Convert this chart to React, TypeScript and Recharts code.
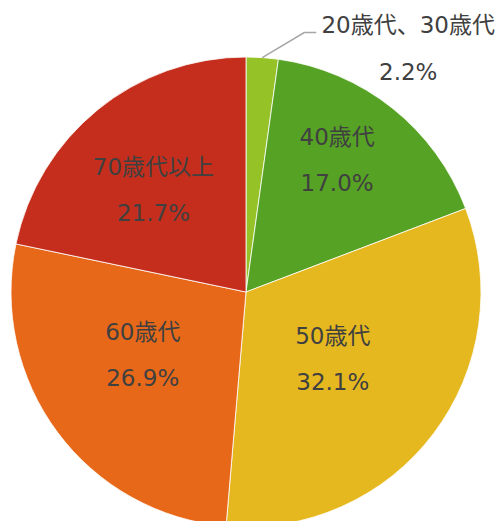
import React from "react";
import { PieChart, Pie, Cell } from "recharts";

const categories = ["20歳代、30歳代", "40歳代", "50歳代", "60歳代", "70歳代以上"];
const shares = [2.2, 17.0, 32.1, 26.9, 21.7];
const percentLabels = ["2.2%", "17.0%", "32.1%", "26.9%", "21.7%"];

const COLORS = ["#95C227", "#56A224", "#E5B81F", "#E8681A", "#C52E1C"];
// label placement (style): radius fraction and angle shift (deg, clockwise) per slice
const LABEL_R = [1, 0.682, 0.467, 0.515, 0.586];
const LABEL_SHIFT = [0, -3.9, 0.7, 5.2, -3.1];

const data = categories.map((name, i) => ({ name, value: shares[i], pct: percentLabels[i] }));

const FONT = '"DejaVu Sans", "Noto Sans CJK JP", sans-serif';
const TEXT = "#404040";
const FS = 23;
const RAD = Math.PI / 180;

const renderLabel = (props: any) => {
  const { cx, cy, midAngle, outerRadius, index } = props;
  const d = data[index];
  if (index === 0) {
    const ex = cx + outerRadius * Math.cos(-midAngle * RAD);
    const ey = cy + outerRadius * Math.sin(-midAngle * RAD);
    const mx = ex + 42;
    const my = ey - 25;
    const hx = mx + 12;
    const tx = hx + 92;
    return (
      <g>
        <polyline
          points={`${ex},${ey} ${mx},${my} ${hx},${my}`}
          fill="none"
          stroke="#A6A6A6"
          strokeWidth={1.5}
        />
        <text x={tx} y={my - 8} textAnchor="middle" dominantBaseline="central" fill={TEXT} fontSize={FS} fontFamily={FONT}>
          {d.name}
        </text>
        <text x={tx} y={my + 39} textAnchor="middle" dominantBaseline="central" fill={TEXT} fontSize={FS} fontFamily={FONT}>
          {d.pct}
        </text>
      </g>
    );
  }
  const a = midAngle - LABEL_SHIFT[index];
  const r = outerRadius * LABEL_R[index];
  const x = cx + r * Math.cos(-a * RAD);
  const y = cy + r * Math.sin(-a * RAD);
  return (
    <g>
      <text x={x} y={y - 23} textAnchor="middle" dominantBaseline="central" fill={TEXT} fontSize={FS} fontFamily={FONT}>
        {d.name}
      </text>
      <text x={x} y={y + 23} textAnchor="middle" dominantBaseline="central" fill={TEXT} fontSize={FS} fontFamily={FONT}>
        {d.pct}
      </text>
    </g>
  );
};

export default function App() {
  return (
    <div style={{ position: "absolute", left: 0, top: 0, width: 500, height: 521, background: "#fff" }}>
      <PieChart width={500} height={521} margin={{ top: 0, right: 0, bottom: 0, left: 0 }}>
        <Pie
          data={data}
          dataKey="value"
          nameKey="name"
          cx={246}
          cy={292}
          outerRadius={235}
          startAngle={90}
          endAngle={-270}
          stroke="#ffffff"
          strokeWidth={0.8}
          label={renderLabel}
          labelLine={false}
          isAnimationActive={false}
        >
          {data.map((_, i) => (
            <Cell key={i} fill={COLORS[i]} />
          ))}
        </Pie>
      </PieChart>
    </div>
  );
}
